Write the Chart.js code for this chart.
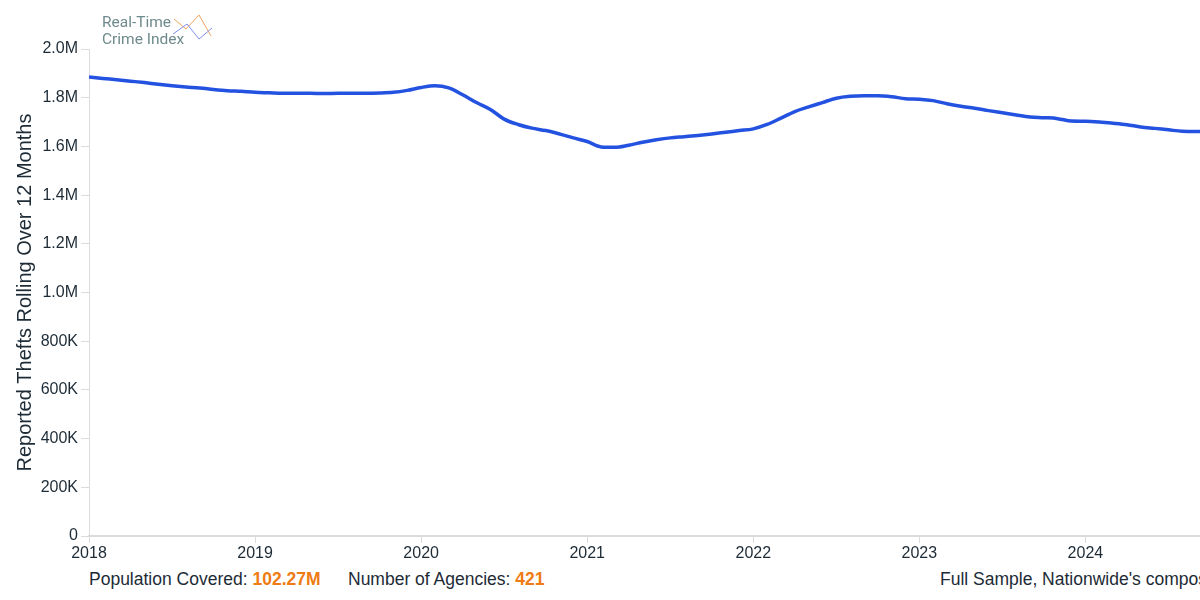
<!DOCTYPE html>
<html>
<head>
<meta charset="utf-8">
<script src="https://cdn.jsdelivr.net/npm/chart.js@4"></script>
<style>
    html, body { margin: 0; padding: 0; background: #fff; width: 1200px; height: 600px; overflow: hidden; }
    body { position: relative; font-family: "Liberation Sans", Arial, sans-serif; }
    #wrap { position: absolute; left: 0; top: 0; width: 1200px; height: 562px; }
    .logo { position: absolute; left: 102px; top: 14px; color: #6f8a8c; font-family: Roboto, "Liberation Sans", sans-serif; font-size: 15.5px; line-height: 17px; }
    .logo svg { position: absolute; left: 70px; top: 0px; }
    .foot { position: absolute; top: 569px; font-size: 17.5px; color: #1d2b36; white-space: nowrap; }
    .foot b { color: #ee7b13; }
</style>
</head>
<body>
<div id="wrap"><canvas id="chart"></canvas></div>
<div class="logo">Real-Time<br>Crime Index
    <svg width="45" height="30" viewBox="0 0 45 30">
        <polyline points="2,5 14,15 27,1 39,22" fill="none" stroke="#f0a45c" stroke-width="1"/>
        <polyline points="1,20 15,10 27,25 40,14" fill="none" stroke="#7f8ff0" stroke-width="1"/>
    </svg>
</div>
<div class="foot" style="left:89px">Population Covered: <b>102.27M</b></div>
<div class="foot" style="left:348px">Number of Agencies: <b>421</b></div>
<div class="foot" style="left:940px">Full Sample, Nationwide's composite</div>
<script>
    // Monthly points, Jan 2018 .. Oct 2024 (decimal year)
    const months = [];
    for (let i = 0; i < 82; i++) months.push(2018 + i / 12);

    // Reported thefts, rolling 12 months, in thousands
    const thefts = [
        1885, 1879, 1874, 1868, 1862, 1855, 1849, 1844, 1840, 1834, 1829, 1826,
        1822, 1820, 1818, 1818, 1818, 1817, 1818, 1818, 1818, 1819, 1822, 1830,
        1842, 1849, 1840, 1812, 1780, 1752, 1712, 1690, 1675, 1665, 1651, 1635,
        1620, 1598, 1596, 1605, 1617, 1627, 1635, 1640, 1645, 1651, 1658, 1665,
        1672, 1690, 1716, 1743, 1762, 1780, 1798, 1806, 1808, 1808, 1804, 1796,
        1794, 1788, 1775, 1765, 1757, 1747, 1738, 1729, 1721, 1718, 1714, 1704,
        1703, 1700, 1695, 1689, 1680, 1674, 1668, 1662, 1661, 1661
    ];

    const yearTicks = [2018, 2019, 2020, 2021, 2022, 2023, 2024];

    const points = months.map((m, i) => ({ x: m, y: thefts[i] }));

    function formatK(v) {
        if (v === 0) return '0';
        if (v >= 1000) return (v / 1000).toFixed(1) + 'M';
        return v + 'K';
    }

    const textColor = '#1d2b36';
    const axisColor = '#dcdcdc';

    new Chart(document.getElementById('chart'), {
        type: 'line',
        data: {
            datasets: [{
                data: points,
                borderColor: '#2452e0',
                borderWidth: 3.5,
                pointRadius: 0,
                cubicInterpolationMode: 'monotone',
                fill: false
            }]
        },
        options: {
            responsive: true,
            maintainAspectRatio: false,
            animation: false,
            layout: { padding: { top: 49, right: 0, left: 0, bottom: 0 } },
            plugins: { legend: { display: false }, tooltip: { enabled: false } },
            scales: {
                x: {
                    type: 'linear',
                    min: 2018,
                    max: 2024.69,
                    afterBuildTicks: (scale) => { scale.ticks = yearTicks.map(v => ({ value: v })); },
                    afterFit: (scale) => { scale.height = 26; },
                    ticks: {
                        color: textColor,
                        font: { size: 16, family: '"Liberation Sans", Arial, sans-serif' },
                        padding: 1,
                        maxRotation: 0,
                        callback: (v) => String(v)
                    },
                    grid: { drawOnChartArea: false, color: axisColor, tickLength: 7 },
                    border: { color: axisColor, width: 2 }
                },
                y: {
                    min: 0,
                    max: 2000,
                    afterFit: (scale) => { scale.width = 89; },
                    ticks: {
                        stepSize: 200,
                        color: textColor,
                        font: { size: 16, family: '"Liberation Sans", Arial, sans-serif' },
                        padding: 3,
                        callback: (v) => formatK(v)
                    },
                    grid: { drawOnChartArea: false, color: axisColor, tickLength: 8 },
                    border: { color: axisColor, width: 1 },
                    title: {
                        display: true,
                        text: 'Reported Thefts Rolling Over 12 Months',
                        color: textColor,
                        font: { size: 20, family: '"Liberation Sans", Arial, sans-serif' },
                        padding: { top: 13, bottom: 0 }
                    }
                }
            }
        }
    });
</script>
</body>
</html>
